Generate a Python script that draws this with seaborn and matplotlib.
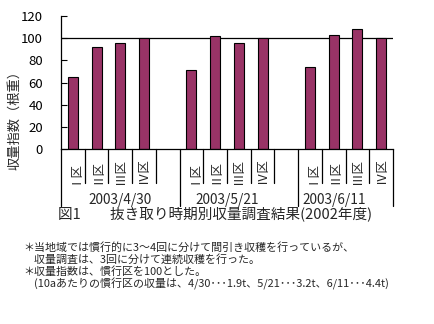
import matplotlib
matplotlib.use("Agg")
import matplotlib.pyplot as plt
import seaborn as sns
import pandas as pd

# Harvest dates and plots
dates = ["2003/4/30", "2003/5/21", "2003/6/11"]
plots = ["Ⅰ区", "Ⅱ区", "Ⅲ区", "Ⅳ区"]
# Yield index (root weight), conventional plot = 100
yield_0430 = [65, 92, 96, 100]
yield_0521 = [71, 102, 96, 100]
yield_0611 = [74, 103, 108, 100]
y_ticks = [0, 20, 40, 60, 80, 100, 120]

ylabel = "収量指数（根重）"
caption = "図1　　抜き取り時期別収量調査結果(2002年度)"
notes = [
    "＊当地域では慣行的に3～4回に分けて間引き収穫を行っているが、",
    "　収量調査は、3回に分けて連続収穫を行った。",
    "＊収量指数は、慣行区を100とした。",
    "　(10aあたりの慣行区の収量は、4/30･･･1.9t、5/21･･･3.2t、6/11･･･4.4t)",
]

sns.set_theme(style="white")
plt.rcParams["font.family"] = ["Noto Sans CJK JP", "DejaVu Sans"]

# Build slots: four plots per date, with an empty slot between dates
series = [yield_0430, yield_0521, yield_0611]
rows, order = [], []
for gi, (d, vals) in enumerate(zip(dates, series)):
    for p, v in zip(plots, vals):
        key = f"{d}|{p}"
        rows.append({"slot": key, "value": v})
        order.append(key)
    if gi < len(dates) - 1:
        order.append(f"gap{gi}")
df = pd.DataFrame(rows)

fig = plt.figure(figsize=(4.34, 3.24), dpi=100)
ax = fig.add_axes([61 / 434, 1 - 149 / 324, (393 - 61) / 434, (149 - 16) / 324])

sns.barplot(data=df, x="slot", y="value", order=order, color="#993366",
            saturation=1, width=0.42, edgecolor="black", linewidth=0.8, ax=ax)

ax.set_xlim(-0.5, len(order) - 0.5)
ax.set_ylim(0, 120)
ax.set_yticks(y_ticks)
ax.tick_params(axis="y", direction="in", length=4, width=0.8, left=True,
               labelsize=9.5, pad=13, colors="black")
ax.tick_params(axis="x", bottom=False, labelbottom=False)
ax.set_xlabel("")
ax.set_ylabel("")
for s in ["top", "right"]:
    ax.spines[s].set_visible(False)
for s in ["left", "bottom"]:
    ax.spines[s].set_color("black")
    ax.spines[s].set_linewidth(0.9)

# Reference line at conventional = 100
ax.axhline(100, color="black", lw=0.9, zorder=0.5)

# Category axis below the plot: plot labels, separators, date labels
trans = ax.get_xaxis_transform()
px = 1 / 133  # one pixel in axes-height units
short_end = -(183 - 149) * px
long_end = -(206 - 149) * px
pos = 0
for gi, d in enumerate(dates):
    start = pos
    for p in plots:
        ax.text(pos, -(171 - 149) * px, p, rotation=90, ha="center",
                va="center", fontsize=9, transform=trans)
        pos += 1
    # separators between plots inside the group
    for k in range(len(plots)):
        x = start + k + 0.5
        if k < len(plots) - 1 or gi < len(dates) - 1:
            ax.plot([x, x], [0, short_end], color="black", lw=0.9,
                    transform=trans, clip_on=False)
    left_edge = start - 0.5 if gi == 0 else start - 1.5
    right_edge = pos + 0.5 if gi < len(dates) - 1 else pos - 0.5
    ax.text((left_edge + right_edge) / 2, -(200 - 149) * px, d, ha="center",
            va="center", fontsize=9.8, transform=trans)
    ax.plot([right_edge, right_edge], [0, long_end], color="black", lw=0.9,
            transform=trans, clip_on=False)
    pos += 1
ax.plot([-0.5, -0.5], [0, long_end], color="black", lw=0.9,
        transform=trans, clip_on=False)

fig.text(15 / 434, 1 - 117 / 324, ylabel, rotation=90, ha="center",
         va="center", fontsize=9.5)
fig.text(215 / 434, 1 - 214 / 324, caption, ha="center", va="center",
         fontsize=10.5)
note_y = [247, 259, 272, 284]
for txt, y in zip(notes, note_y):
    fig.text(23 / 434, 1 - y / 324, txt, ha="left", va="center", fontsize=7.9)

fig.savefig("out.png", dpi=100)
